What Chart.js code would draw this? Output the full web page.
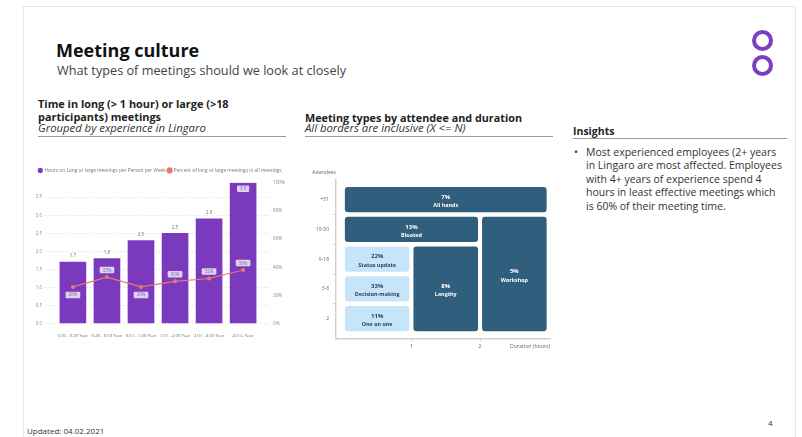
<!DOCTYPE html>
<html>
<head>
<meta charset="utf-8">
<script src="https://cdn.jsdelivr.net/npm/chart.js@4.4.0/dist/chart.umd.min.js"></script>
<style>
  body { margin: 0; width: 802px; height: 437px; background: #fff; position: relative; overflow: hidden; font-family: "Open Sans", sans-serif; color: #222; }
  .t { position: absolute; white-space: nowrap; }
  .rule { position: absolute; height: 1px; background: #9a9a9a; }
  .ring { position: absolute; width: 13px; height: 13px; border: 4px solid #7b3fc4; border-radius: 50%; }
  #frame { position: absolute; left: 23px; top: 6px; width: 771px; height: 440px; border: 1px solid #e6e6e6; }
  .box { position: absolute; }
</style>
</head>
<body>
<div id="frame"></div>

<div class="t" style="left:56px;top:38px;font-size:18px;line-height:24px;font-weight:700;color:#111">Meeting culture</div>
<div class="t" style="left:57px;top:62px;font-size:12.7px;line-height:16px;color:#444">What types of meetings should we look at closely</div>
<div class="ring" style="left:752px;top:30px"></div>
<div class="ring" style="left:752px;top:55px"></div>

<div class="t" style="left:38px;top:96.5px;font-size:10.9px;line-height:14px;font-weight:700">Time in long (&gt; 1 hour) or large (&gt;18</div>
<div class="t" style="left:38px;top:110px;font-size:10.9px;line-height:14px;font-weight:700">participants) meetings</div>
<div class="t" style="left:38px;top:121px;font-size:11.3px;line-height:14px;font-style:italic;color:#333">Grouped by experience in Lingaro</div>
<div class="rule" style="left:38px;top:135.5px;width:248px"></div>

<div class="t" style="left:305px;top:110.5px;font-size:10.8px;line-height:14px;font-weight:700">Meeting types by attendee and duration</div>
<div class="t" style="left:305px;top:121px;font-size:11.3px;line-height:14px;font-style:italic;color:#333">All borders are inclusive (X &lt;= N)</div>
<div class="rule" style="left:305px;top:135.5px;width:248px"></div>

<div class="t" style="left:573px;top:124px;font-size:10.5px;line-height:14px;font-weight:700">Insights</div>
<div class="rule" style="left:573px;top:138px;width:214px"></div>
<div class="t" style="left:574px;top:146px;font-size:10.5px;line-height:13.4px;color:#333">•</div>
<div class="t" style="left:586px;top:146px;font-size:10.5px;line-height:13.4px;color:#333">Most experienced employees (2+ years<br>in Lingaro are most affected. Employees<br>with 4+ years of experience spend 4<br>hours in least effective meetings which<br>is 60% of their meeting time.</div>

<div class="box" style="left:30px;top:160px;width:260px;height:180px"><canvas id="expChart"></canvas></div>
<div class="box" style="left:300px;top:160px;width:260px;height:195px"><canvas id="typeChart"></canvas></div>

<div class="t" style="left:27px;top:425px;font-size:8px;line-height:11px;color:#333">Updated: 04.02.2021</div>
<div class="t" style="left:768px;top:417px;font-size:8px;line-height:11px;color:#333">4</div>

<script>
// experience chart
const experienceGroups = ['0.00 - 0.25 Year', '0.26 - 0.50 Year', '0.51 - 1.00 Year', '1.01 - 2.00 Year', '2.01 - 4.00 Year', '4.01+ Year'];
const hoursPerWeek = [1.7, 1.8, 2.3, 2.5, 2.9, 3.9];
const percentLongMeetings = [26, 33, 26, 30, 32, 38];
const hoursTicks = [0, 0.5, 1, 1.5, 2, 2.5, 3, 3.5];
const percentTicks = [0, 20, 40, 60, 80, 100];

// meeting type matrix
const meetingTypes = ['All hands', 'Bloated', 'Status update', 'Decision-making', 'One on one', 'Lengthy', 'Workshop'];
const meetingShares = [7, 13, 22, 33, 11, 8, 5];
const durationFrom = [0, 0, 0, 0, 0, 1, 2];
const durationTo = [3, 2, 1, 1, 1, 2, 3];
const attendeesFrom = [4, 3, 2, 1, 0, 0, 0];
const attendeesTo = [5, 4, 3, 2, 1, 3, 4];
const attendeeBuckets = ['2', '3-8', '9-18', '19-50', '+51'];
const durationTicks = [1, 2];

const colors = {
    purple: 'rgb(123, 58, 190)',
    coral: 'rgb(226, 124, 106)',
    labelBox: 'rgb(222, 209, 242)',
    labelText: 'rgb(130, 110, 160)',
    navy: 'rgb(47, 95, 125)',
    pale: 'rgb(199, 229, 250)',
    axis: '#d0d0d0',
    tick: '#6e6e6e'
};
const FONT = '"Open Sans", sans-serif';

function pill(ctx, x, y, text) {
    const w = ctx.measureText(text).width + 6;
    const h = 6.5;
    ctx.fillStyle = colors.labelBox;
    ctx.beginPath();
    ctx.roundRect(x - w / 2, y - h / 2, w, h, 1.2);
    ctx.fill();
    ctx.fillStyle = colors.labelText;
    ctx.fillText(text, x, y + 0.3);
}

const expLabels = {
    id: 'expLabels',
    afterDatasetsDraw(chart) {
        const ctx = chart.ctx;
        const bars = chart.getDatasetMeta(0).data;
        const pts = chart.getDatasetMeta(1).data;
        ctx.save();
        ctx.font = '4.4px ' + FONT;
        ctx.textAlign = 'center';
        ctx.textBaseline = 'middle';
        bars.forEach((bar, i) => {
            const txt = hoursPerWeek[i].toFixed(1);
            if (bar.y - chart.chartArea.top < 10) {
                pill(ctx, bar.x, bar.y + 6, txt);
            } else {
                ctx.fillStyle = '#666';
                ctx.fillText(txt, bar.x, bar.y - 6);
            }
        });
        pts.forEach((p, i) => {
            const v = percentLongMeetings;
            const below = (i === 0 || v[i] <= v[i - 1]) && (i === v.length - 1 || v[i] <= v[i + 1]);
            pill(ctx, p.x, below ? p.y + 8 : p.y - 7, v[i] + '%');
        });
        ctx.restore();
    }
};

new Chart(document.getElementById('expChart'), {
    type: 'bar',
    data: {
        datasets: [
            {
                label: 'Hours on Long or large meetings per Person per Week',
                data: hoursPerWeek.map((v, i) => ({ x: i, y: v })),
                yAxisID: 'y',
                backgroundColor: colors.purple,
                barThickness: 26,
                order: 1
            },
            {
                type: 'line',
                label: 'Percent of long or large meetings in all meetings',
                data: percentLongMeetings.map((v, i) => ({ x: i, y: v })),
                yAxisID: 'y1',
                borderColor: colors.coral,
                backgroundColor: colors.coral,
                borderWidth: 1.2,
                pointRadius: 1.4,
                order: 0
            }
        ]
    },
    options: {
        responsive: true,
        maintainAspectRatio: false,
        animation: false,
        layout: { padding: { top: 6 } },
        plugins: {
            tooltip: { enabled: false },
            legend: {
                position: 'top',
                labels: {
                    usePointStyle: true,
                    pointStyle: 'circle',
                    boxWidth: 3.6,
                    boxHeight: 3.6,
                    padding: 2,
                    color: '#777',
                    font: { size: 4.8, family: FONT },
                    sort: (a, b) => a.datasetIndex - b.datasetIndex
                }
            }
        },
        scales: {
            x: {
                type: 'linear',
                min: -0.82,
                max: 5.79,
                offset: false,
                afterBuildTicks: s => { s.ticks = experienceGroups.map((_, i) => ({ value: i })); },
                ticks: { callback: v => experienceGroups[v], color: '#666', font: { size: 4.3, family: FONT }, maxRotation: 0, autoSkip: false, padding: 2 },
                grid: { display: false },
                border: { display: false },
                afterFit: s => { s.height = 16.5; }
            },
            y: {
                position: 'left',
                min: 0,
                max: 3.9,
                afterBuildTicks: s => { s.ticks = hoursTicks.map(v => ({ value: v })); },
                ticks: { callback: v => v.toFixed(1), color: '#888', font: { size: 4.4, family: FONT }, padding: 3 },
                grid: { color: '#d6d6d6', lineWidth: 0.8, drawTicks: false },
                border: { display: false, dash: [1, 2] },
                afterFit: s => { s.width = 15; }
            },
            y1: {
                position: 'right',
                min: 0,
                max: 100,
                afterBuildTicks: s => { s.ticks = percentTicks.map(v => ({ value: v })); },
                ticks: { callback: v => v + '%', color: '#888', font: { size: 4.6, family: FONT }, padding: 3 },
                grid: { drawOnChartArea: false, drawTicks: false },
                border: { display: false },
                afterFit: s => { s.width = 20; }
            }
        }
    },
    plugins: [expLabels]
});

const matrixPlugin = {
    id: 'matrix',
    beforeDatasetsDraw(chart) {
        const { ctx, scales: { x, y } } = chart;
        ctx.save();
        meetingTypes.forEach((t, i) => {
            const x0 = x.getPixelForValue(durationFrom[i]) + 2;
            const x1 = x.getPixelForValue(durationTo[i]) - 2;
            const y0 = y.getPixelForValue(attendeesTo[i]) + 2.3;
            const y1 = y.getPixelForValue(attendeesFrom[i]) - 2.3;
            ctx.fillStyle = meetingShares[i] >= 10 && attendeesTo[i] <= 3 ? colors.pale : colors.navy;
            ctx.beginPath();
            ctx.roundRect(x0, y0, x1 - x0, y1 - y0, 3);
            ctx.fill();
        });
        ctx.restore();
    },
    afterDatasetsDraw(chart) {
        const { ctx, chartArea } = chart;
        const pts = chart.getDatasetMeta(0).data;
        ctx.save();
        ctx.textAlign = 'center';
        ctx.textBaseline = 'middle';
        pts.forEach((p, i) => {
            const light = meetingShares[i] >= 10 && attendeesTo[i] <= 3;
            ctx.fillStyle = light ? '#1f3f58' : '#fff';
            ctx.font = 'bold 6px ' + FONT;
            ctx.fillText(meetingShares[i] + '%', p.x, p.y - 2.5);
            ctx.font = 'bold 5.4px ' + FONT;
            ctx.fillText(meetingTypes[i], p.x, p.y + 6);
        });
        ctx.fillStyle = '#666';
        ctx.font = '5px ' + FONT;
        ctx.textAlign = 'right';
        ctx.fillText('Attendees', chartArea.left, chartArea.top - 7);
        ctx.font = '5.2px ' + FONT;
        ctx.fillText('Duration (hours)', chartArea.right, chartArea.bottom + 8.6);
        ctx.restore();
    }
};

new Chart(document.getElementById('typeChart'), {
    type: 'scatter',
    data: {
        datasets: [{
            label: 'Meeting types',
            data: meetingTypes.map((t, i) => ({
                x: (durationFrom[i] + durationTo[i]) / 2,
                y: (attendeesFrom[i] + attendeesTo[i]) / 2
            })),
            pointRadius: 0
        }]
    },
    options: {
        responsive: true,
        maintainAspectRatio: false,
        animation: false,
        layout: { padding: { top: 20, right: 10 } },
        plugins: { legend: { display: false }, tooltip: { enabled: false } },
        scales: {
            x: {
                min: -0.1,
                max: 3.02,
                afterBuildTicks: s => { s.ticks = durationTicks.map(v => ({ value: v })); },
                ticks: { color: '#666', font: { size: 5, family: FONT }, padding: 2 },
                grid: { drawOnChartArea: false, tickLength: 3, color: colors.axis },
                border: { color: colors.axis, width: 1.5 },
                afterFit: s => { s.height = 16.7; }
            },
            y: {
                min: -0.16,
                max: 5.16,
                afterBuildTicks: s => { s.ticks = attendeeBuckets.map((_, i) => ({ value: i + 1 })); },
                ticks: { callback: v => attendeeBuckets[v - 1], labelOffset: 14.85, color: '#666', font: { size: 5, family: FONT }, padding: 4 },
                grid: {
                    drawOnChartArea: false,
                    tickLength: 3,
                    color: c => (c.tick && c.tick.value === attendeeBuckets.length ? 'rgba(0,0,0,0)' : colors.axis)
                },
                border: { color: colors.axis, width: 1.5 },
                afterFit: s => { s.width = 36; }
            }
        }
    },
    plugins: [matrixPlugin]
});
</script>
</body>
</html>
